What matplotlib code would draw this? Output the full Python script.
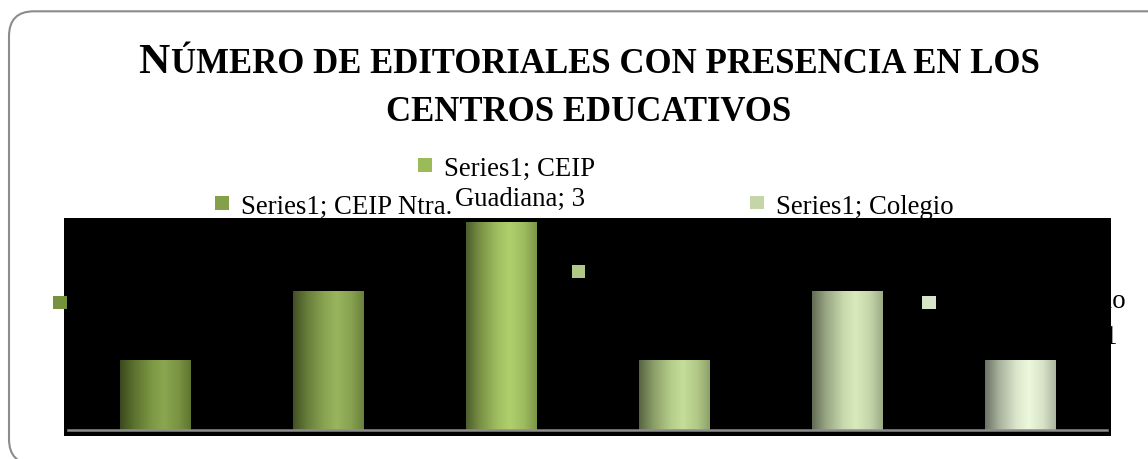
import textwrap
import numpy as np
import matplotlib
matplotlib.use("Agg")
import matplotlib.pyplot as plt
import matplotlib.colors as mcolors
from matplotlib.patches import FancyBboxPatch, Rectangle
from matplotlib.transforms import IdentityTransform
from matplotlib.font_manager import FontProperties

# ---------------- data ----------------
series_name = "Series1"
categories = [
    "CEIP Santa Engracia",
    "CEIP Ntra. Sra. del Pilar",
    "CEIP Guadiana",
    "IES Reino Aftasí",
    "Colegio San José",
    "Colegio Santo Ángel",
]
values = [1, 2, 3, 1, 2, 1]
title_first = "N"
title_line1_rest = "ÚMERO DE EDITORIALES CON PRESENCIA EN LOS"
title_line2 = "CENTROS EDUCATIVOS"

# ---------------- style ----------------
bar_colors = ["#76923c", "#84a04a", "#9bbb59", "#b0c984", "#c4d6a8", "#d8e4c8"]
W, H, DPI = 1148, 460, 100
SERIF = "Liberation Serif"

fig = plt.figure(figsize=(W / DPI, H / DPI), dpi=DPI)
fig.patch.set_facecolor("white")
renderer = fig.canvas.get_renderer()

# outer rounded frame (display pixels)
frame = FancyBboxPatch((9, -5), 1180 - 9, 447.7 + 5,
                       boxstyle="round,pad=0,rounding_size=25",
                       transform=IdentityTransform(), facecolor="none",
                       edgecolor="#8c8c8c", linewidth=1.5, zorder=-2)
fig.add_artist(frame)

# plot area (black)
ax_l, ax_t, ax_r, ax_b = 64, 219, 1111, 437
ax = fig.add_axes([ax_l / W, 1 - ax_b / H, (ax_r - ax_l) / W, (ax_b - ax_t) / H])
ax.set_facecolor("black")
for s in ax.spines.values():
    s.set_visible(False)
ax.set_xticks([])
ax.set_yticks([])

x = np.arange(len(values))
bars = ax.bar(x, values, width=0.405, color="none", linewidth=0, zorder=2)

# cylinder-like horizontal gradient for every bar
tstops = [0.0, 0.2, 0.45, 0.62, 0.82, 1.0]
mul = [0.5, 0.78, 0.97, 1.0, 0.95, 0.8]
add = [0.0, 0.0, 0.04, 0.08, 0.04, 0.0]
tt = np.linspace(0, 1, 200)
m = np.interp(tt, tstops, mul)
a = np.interp(tt, tstops, add)
for rect, c in zip(bars, bar_colors):
    rgb = np.array(mcolors.to_rgb(c))
    grad = np.clip(rgb[None, :] * m[:, None] + a[:, None], 0, 1)[None, :, :]
    x0, y0 = rect.get_x(), rect.get_y()
    ax.imshow(grad, extent=[x0, x0 + rect.get_width(), y0, y0 + rect.get_height()],
              aspect="auto", origin="lower", interpolation="bilinear", zorder=2)

ax.set_xlim(-0.529, 5.526)
ax.set_ylim(-0.087, 3.072)
ax.axhline(0, xmin=4 / 1047, xmax=1043 / 1047, color="#8c8c8c", lw=1.8, zorder=3)

# data labels (text sits behind the plot area, legend keys on top)
label_fs = 19.3
label_step = 30.0
lp = FontProperties(family=SERIF, size=label_fs)
_, lp_h, lp_d = renderer.get_text_width_height_descent("lp", lp, ismath=False)
label_ls = (label_step - lp_d) / (lp_h - lp_d)

label_anchor_px = [(60, 303.5), (222, 204), (425, 166), (578.5, 272.5), (757, 203.7), (929, 303.7)]
key = 13.5
for i, (cat, val) in enumerate(zip(categories, values)):
    mx, my = label_anchor_px[i]
    lines = textwrap.wrap(f"{series_name}; {cat}; {val}", 19)
    base_last = my + 10 + (len(lines) - 1) * label_step
    fig.text((mx + 19) / W, 1 - base_last / H, "\n".join(lines), ha="left", va="baseline",
             multialignment="center", fontproperties=lp, color="black",
             linespacing=label_ls, zorder=-1)
    fig.add_artist(Rectangle(((mx - key / 2) / W, 1 - (my + key / 2) / H), key / W, key / H,
                             transform=fig.transFigure, facecolor=bar_colors[i],
                             edgecolor="none", zorder=5))

# title with small caps
s_pt = 24.8
t2 = fig.text(0, 0, title_line2, fontsize=s_pt, fontweight="bold", family=SERIF, va="baseline")
w2 = t2.get_window_extent(renderer).width
s_pt *= 405 / w2
b_pt = s_pt / 0.8
t2.set_fontsize(s_pt)
w2 = t2.get_window_extent(renderer).width
cx = 589
t2.set_position(((cx - w2 / 2) / W, 1 - 121 / H))

tn = fig.text(0, 0, title_first, fontsize=b_pt, fontweight="bold", family=SERIF, va="baseline")
tr = fig.text(0, 0, title_line1_rest, fontsize=s_pt, fontweight="bold", family=SERIF, va="baseline")
wn = tn.get_window_extent(renderer).width
wr = tr.get_window_extent(renderer).width
gap = 1
left = cx - (wn + gap + wr) / 2
tn.set_position((left / W, 1 - 73 / H))
tr.set_position(((left + wn + gap) / W, 1 - 73 / H))

fig.savefig("out.png", dpi=DPI)
